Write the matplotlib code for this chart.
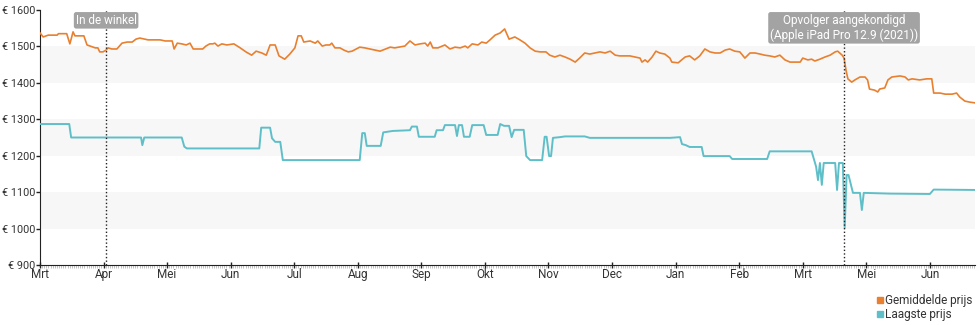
import matplotlib
matplotlib.use('Agg')
import matplotlib.pyplot as plt
from matplotlib.lines import Line2D
from matplotlib.ticker import MultipleLocator

plt.rcParams['font.family'] = ['Roboto', 'DejaVu Sans']

# x positions are in months from the start of the timeline (0 = Mrt)
avg_x = [0, 0.05, 0.13, 0.27, 0.29, 0.42, 0.47, 0.52, 0.55, 0.69, 0.74, 0.87, 0.91, 0.94, 0.99,
         1.04, 1.07, 1.13, 1.21, 1.29, 1.37, 1.45, 1.51, 1.57, 1.70, 1.89, 1.97, 2.08, 2.11, 2.16,
         2.23, 2.30, 2.36, 2.41, 2.49, 2.56, 2.61, 2.67, 2.72, 2.75, 2.80, 2.86, 2.94, 3.05, 3.15,
         3.24, 3.33, 3.40, 3.49, 3.56, 3.62, 3.70, 3.76, 3.85, 3.93, 4.01, 4.06, 4.11, 4.15, 4.25,
         4.33, 4.37, 4.44, 4.50, 4.56, 4.59, 4.64, 4.72, 4.78, 4.85, 4.91, 5.03, 5.11, 5.19, 5.35,
         5.51, 5.58, 5.74, 5.82, 5.90, 5.98, 6.06, 6.10, 6.14, 6.18, 6.26, 6.37, 6.45, 6.53, 6.61,
         6.69, 6.73, 6.80, 6.89, 6.95, 7.02, 7.08, 7.16, 7.24, 7.31, 7.38, 7.47, 7.55, 7.63, 7.71,
         7.79, 7.87, 7.96, 8.02, 8.10, 8.18, 8.26, 8.34, 8.42, 8.49, 8.57, 8.65, 8.73, 8.81, 8.89,
         8.97, 9.05, 9.12, 9.28, 9.36, 9.44, 9.47, 9.52, 9.56, 9.63, 9.69, 9.75, 9.83, 9.91, 9.94,
         10.04, 10.15, 10.22, 10.30, 10.38, 10.46, 10.54, 10.62, 10.70, 10.78, 10.85, 10.93, 11.01,
         11.09, 11.17, 11.25, 11.33, 11.40, 11.48, 11.56, 11.64, 11.72, 11.80, 11.96, 12.00, 12.08,
         12.14, 12.19, 12.27, 12.35, 12.43, 12.51, 12.55, 12.62, 12.65, 12.68, 12.71, 12.77, 12.82,
         12.90, 12.98, 13.02, 13.05, 13.13, 13.18, 13.21, 13.29, 13.34, 13.40, 13.53, 13.61, 13.66,
         13.72, 13.84, 13.95, 14.03, 14.06, 14.16, 14.24, 14.35, 14.42, 14.47, 14.55, 14.63, 14.71]
avg_price = [1537, 1526, 1531, 1531, 1535, 1535, 1507, 1540, 1529, 1529, 1504, 1496, 1496, 1485, 1485,
             1490, 1496, 1493, 1493, 1509, 1512, 1512, 1520, 1523, 1518, 1518, 1515, 1515, 1493, 1509,
             1507, 1504, 1509, 1493, 1493, 1493, 1501, 1507, 1507, 1509, 1501, 1507, 1504, 1507, 1496,
             1485, 1476, 1487, 1482, 1476, 1504, 1504, 1474, 1465, 1479, 1496, 1529, 1529, 1512, 1515,
             1509, 1515, 1501, 1504, 1504, 1509, 1496, 1496, 1490, 1485, 1487, 1498, 1496, 1493, 1487,
             1498, 1496, 1501, 1515, 1504, 1507, 1509, 1501, 1512, 1496, 1496, 1504, 1493, 1498, 1496,
             1501, 1496, 1507, 1504, 1512, 1509, 1518, 1531, 1537, 1548, 1520, 1526, 1518, 1509, 1496,
             1487, 1485, 1485, 1476, 1471, 1476, 1471, 1465, 1457, 1468, 1482, 1479, 1482, 1485, 1482,
             1487, 1476, 1474, 1474, 1471, 1468, 1457, 1463, 1457, 1471, 1487, 1482, 1479, 1468, 1457,
             1455, 1471, 1474, 1463, 1474, 1493, 1485, 1482, 1482, 1490, 1493, 1487, 1485,
             1468, 1482, 1482, 1479, 1476, 1474, 1471, 1476, 1463, 1457, 1457, 1468, 1463,
             1465, 1460, 1465, 1471, 1476, 1485, 1487, 1476, 1468, 1435, 1411, 1402, 1408,
             1416, 1416, 1408, 1383, 1380, 1375, 1383, 1386, 1408, 1416, 1419, 1416, 1408,
             1411, 1408, 1411, 1411, 1372, 1372, 1369, 1369, 1372, 1361, 1350, 1347, 1345]

low_x = [0, 0.46, 0.49, 1.59, 1.61, 1.64, 2.23, 2.27, 2.31, 3.45, 3.48, 3.62, 3.65, 3.70, 3.78,
         3.82, 5.03, 5.07, 5.11, 5.14, 5.36, 5.40, 5.55, 5.82, 5.85, 5.93, 5.96, 6.21, 6.24, 6.34,
         6.37, 6.53, 6.56, 6.59, 6.64, 6.67, 6.76, 6.80, 6.98, 7.02, 7.20, 7.24, 7.30, 7.38, 7.42,
         7.46, 7.61, 7.65, 7.71, 7.90, 7.94, 7.97, 8.01, 8.04, 8.07, 8.18, 8.26, 8.57, 8.65, 9.91,
         10.07, 10.10, 10.16, 10.22, 10.41, 10.44, 10.85, 10.89, 11.44, 11.48, 12.14, 12.21, 12.24,
         12.27, 12.30, 12.33, 12.51, 12.54, 12.57, 12.63, 12.66, 12.69, 12.72, 12.79, 12.90, 12.93,
         12.96, 13.37, 14.00, 14.06, 14.71]
low_price = [1287, 1287, 1250, 1250, 1229, 1250, 1250, 1225, 1220, 1220, 1277, 1277, 1248, 1238, 1238,
             1188, 1188, 1262, 1262, 1227, 1227, 1264, 1268, 1270, 1280, 1280, 1252, 1252, 1270, 1270,
             1284, 1284, 1254, 1284, 1284, 1252, 1252, 1284, 1284, 1257, 1257, 1287, 1282, 1282, 1251,
             1271, 1271, 1199, 1188, 1188, 1252, 1252, 1199, 1199, 1249, 1251, 1253, 1253, 1249, 1249,
             1251, 1232, 1229, 1224, 1224, 1199, 1199, 1191, 1191, 1212, 1212, 1170, 1133,
             1180, 1120, 1180, 1180, 1106, 1180, 1180, 1002, 1147, 1147, 1098, 1098, 1051,
             1098, 1096, 1095, 1107, 1106]

month_pos = list(range(15))
month_labels = ['Mrt', 'Apr', 'Mei', 'Jun', 'Jul', 'Aug', 'Sep', 'Okt', 'Nov', 'Dec',
                'Jan', 'Feb', 'Mrt', 'Mei', 'Jun']

events_x = [1.04, 12.65]
events_text = ['In de winkel', 'Opvolger aangekondigd\n(Apple iPad Pro 12.9 (2021))']

orange = '#e8802f'
teal = '#5fbfc8'
text_col = '#333333'

fig = plt.figure(figsize=(9.8, 3.25), dpi=100)
ax = fig.add_axes([40 / 980, 1 - 265 / 325, 935 / 980, 255 / 325])

for lo in (1000, 1200, 1400):
    ax.axhspan(lo, lo + 100, color='#f7f7f7', lw=0, zorder=0)

ax.plot(avg_x, avg_price, color=orange, lw=1.2, zorder=3)
ax.plot(low_x, low_price, color=teal, lw=1.4, zorder=3)

for ex, label in zip(events_x, events_text):
    ax.axvline(ex, color='#222222', lw=1, linestyle=(0, (1, 1.6)), zorder=4)
    ax.text(ex, 0.985, label, transform=ax.get_xaxis_transform(), ha='center', va='top',
            fontsize=8.5, color='white', linespacing=1.15, zorder=5,
            bbox=dict(boxstyle='round,pad=0.15,rounding_size=0.2', fc='#a3a3a3', ec='none'))

ax.set_xlim(0, 14.71)
ax.set_ylim(900, 1600)
ax.set_yticks(range(900, 1601, 100))
ax.set_yticklabels([f'€ {v}' for v in range(900, 1601, 100)])
ax.set_xticks(month_pos)
ax.set_xticklabels(month_labels)
ax.xaxis.set_minor_locator(MultipleLocator(1 / 30))

for side in ('top', 'right'):
    ax.spines[side].set_visible(False)
ax.spines['left'].set_color('#222222')
ax.spines['bottom'].set_color('#222222')
ax.tick_params(axis='y', direction='out', length=3, width=1, color='#222222',
               labelsize=7.8, labelcolor=text_col, pad=0.5)
ax.tick_params(axis='x', which='major', direction='inout', length=5, width=1, color='#222222',
               labelsize=8.5, labelcolor=text_col, pad=0)
ax.tick_params(axis='x', which='minor', direction='out', length=2, width=0.5, color='#aaaaaa')

handles = [Line2D([], [], ls='none', marker='s', ms=5, color=orange),
           Line2D([], [], ls='none', marker='s', ms=5, color=teal)]
fig.legend(handles, ['Gemiddelde prijs', 'Laagste prijs'], loc='lower right',
           bbox_to_anchor=(0.996, 0.0), frameon=False, fontsize=8.5, handlelength=0.5,
           handletextpad=0.2, labelspacing=0.1, borderpad=0.2, borderaxespad=0.1,
           labelcolor=text_col)

fig.savefig('out.png', dpi=100)
